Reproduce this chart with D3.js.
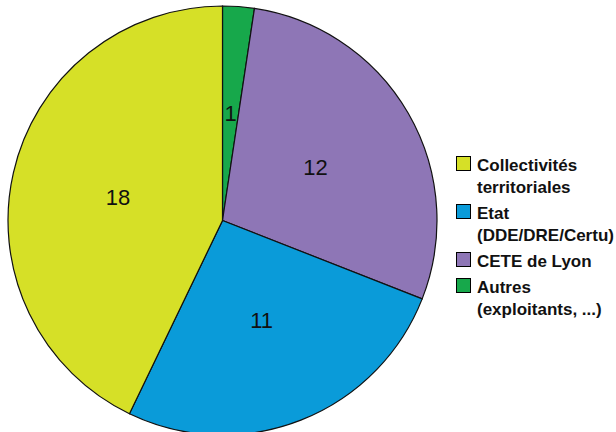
<!DOCTYPE html>
<html>
<head>
<meta charset="utf-8">
<script src="https://cdn.jsdelivr.net/npm/d3@7"></script>
<style>
  body { margin: 0; background: #fff; }
  svg { display: block; font-family: "Liberation Sans", Arial, sans-serif; }
</style>
</head>
<body>
<div id="chart"></div>
<script>
// slices in drawing order, clockwise from 12 o'clock
const categories = ["Autres", "CETE de Lyon", "Etat", "Collectivités territoriales"]
const values = [1, 12, 11, 18]
const colors = ["#17a84b", "#8e76b6", "#0a9bd9", "#d6e027"]

// legend order and wrapped labels
const legendOrder = ["Collectivités territoriales", "Etat", "CETE de Lyon", "Autres"]
const legendLines = [
    ["Collectivités", "territoriales"],
    ["Etat", "(DDE/DRE/Certu)"],
    ["CETE de Lyon"],
    ["Autres", "(exploitants, ...)"]
]

const width = 616, height = 432
const cx = 222.5, cy = 220.5, radius = 214.5

const svg = d3.select("#chart").append("svg")
    .attr("width", width)
    .attr("height", height)

const color = d3.scaleOrdinal().domain(categories).range(colors)

const pie = d3.pie().sort(null).value(d => d.value)
const arcs = pie(categories.map((c, i) => ({ name: c, value: values[i] })))

const arc = d3.arc().innerRadius(0).outerRadius(radius)
const labelArc = d3.arc().innerRadius(radius * 0.5).outerRadius(radius * 0.5)

const g = svg.append("g").attr("transform", `translate(${cx},${cy})`)

g.selectAll("path")
    .data(arcs)
    .join("path")
    .attr("d", arc)
    .attr("fill", d => color(d.data.name))
    .attr("stroke", "#111")
    .attr("stroke-width", 1.2)

g.selectAll("text")
    .data(arcs)
    .join("text")
    .attr("transform", d => `translate(${labelArc.centroid(d)})`)
    .attr("text-anchor", "middle")
    .attr("dy", "0.36em")
    .attr("font-size", 22)
    .attr("fill", "#111")
    .text(d => d.data.value)

// legend
const legend = svg.append("g").attr("transform", "translate(456,0)")
const lineH = 22, itemGap = 4
let y = 171
legendOrder.forEach((name, i) => {
    const item = legend.append("g")
    item.append("rect")
        .attr("x", 0.5)
        .attr("y", y - 14.5)
        .attr("width", 14)
        .attr("height", 14)
        .attr("fill", color(name))
        .attr("stroke", "#000")
        .attr("stroke-width", 1)
    legendLines[i].forEach((t, j) => {
        item.append("text")
            .attr("x", 21)
            .attr("y", y + j * lineH)
            .attr("font-size", 17)
            .attr("font-weight", "bold")
            .attr("fill", "#111")
            .text(t)
    })
    y += legendLines[i].length * lineH + itemGap
})
</script>
</body>
</html>
